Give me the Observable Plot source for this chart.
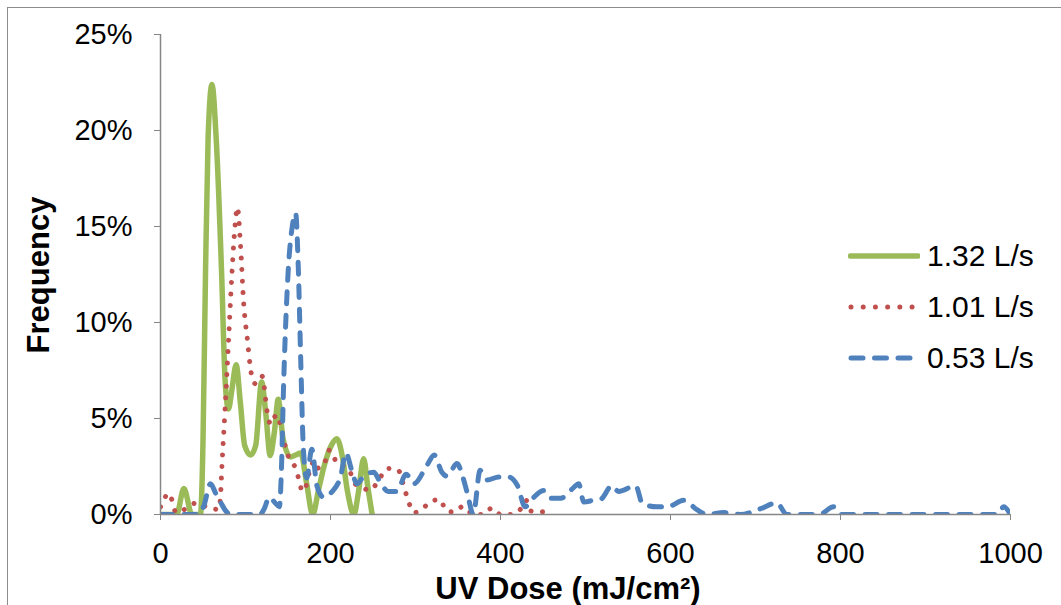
<!DOCTYPE html>
<html>
<head>
<meta charset="utf-8">
<script src="https://cdn.jsdelivr.net/npm/d3@7"></script>
<script src="https://cdn.jsdelivr.net/npm/@observablehq/plot@0.6"></script>
<style>
  html, body { margin: 0; padding: 0; background: #fff; }
  #wrap { position: relative; width: 1061px; height: 605px; overflow: hidden; font-family: "Liberation Sans", Arial, sans-serif; }
  #border { position: absolute; left: 7px; top: 7px; width: 1100px; height: 700px; border: 1.5px solid #8c8c8c; box-sizing: border-box; }
  .ttl { position: absolute; font-weight: bold; color: #000; white-space: nowrap; line-height: 1; }
  .leg { position: absolute; left: 848px; height: 30px; display: flex; align-items: center; font-size: 30px; color: #000; white-space: nowrap; }
  .leg svg { margin-right: 7px; }
</style>
</head>
<body>
<div id="wrap">
  <div id="border"></div>
  <div id="chart" style="position:absolute;left:0;top:0;"></div>
  <div class="ttl" id="ylab" style="font-size:31px;left:38px;top:275px;transform:translate(-50%,-50%) rotate(-90deg);">Frequency</div>
  <div class="ttl" id="xlab" style="font-size:31px;left:568px;top:588px;transform:translate(-50%,-50%);">UV Dose (mJ/cm²)</div>
  <div id="legend"></div>
</div>
<script>
// UV dose (mJ/cm²) and frequency (%)
const dose132 = [0, 10, 19, 27.5, 37, 47, 50, 53, 56, 60.5, 65.5, 71.8, 76, 80, 84, 89, 94, 99, 106, 112, 119, 124, 129, 134, 138.5, 144, 153, 159, 165, 172, 179, 186, 193, 201, 207.5, 214, 220, 227.5, 233, 239, 244, 249];
const freq132 = [0, 0, 0, 1.35, 0, 0, 3.8, 12.7, 19.6, 22.4, 19.6, 12.7, 7.0, 5.5, 6.5, 7.8, 5.8, 3.6, 3.1, 3.6, 6.9, 5.2, 3.07, 4.3, 6.0, 4.0, 3.0, 3.1, 3.2, 1.6, 0, 1.3, 2.6, 3.6, 3.95, 3.0, 1.2, 0, 1.2, 2.9, 1.4, 0];

const dose101 = [0, 3, 8, 14, 18, 26, 35, 44, 56, 68.5, 70.5, 72.5, 76, 80, 84, 88, 90.5, 94, 98, 102, 107, 112, 119.6, 125.5, 129.4, 136.5, 144, 147, 151, 159, 163, 167, 172, 175, 182, 186, 194, 198, 203, 207, 214, 222, 229, 237, 247, 254, 261, 267, 279, 288, 292, 298, 308, 318, 329, 336, 345, 356, 368, 380, 390, 400, 413, 423, 430, 436, 445, 454];
const freq101 = [0.4, 0.56, 1.1, 0.7, 0.1, 0.2, 0.5, 0.6, 0.35, 0.27, 0.9, 2.7, 5.5, 9.0, 12.5, 15.2, 16.0, 14.1, 10.9, 9.2, 7.3, 6.8, 7.2, 5.35, 4.7, 5.2, 4.1, 3.5, 2.95, 2.4, 1.8, 1.2, 1.6, 2.2, 2.8, 2.4, 2.8, 3.35, 3.2, 2.65, 2.55, 2.3, 1.6, 1.4, 1.26, 1.6, 2.1, 2.4, 2.35, 1.2, 0.65, 0.1, 0.27, 0.7, 0.77, 0.2, 0.13, 0.43, 0, 0, 0.34, 0, 0, 0.25, 0.74, 0.18, 0.13, 0.17];

const dose053 = [0, 45, 51, 58.8, 65, 70.6, 76.5, 82, 117, 122, 128, 135, 140, 142, 145, 150, 155, 159, 162, 165, 168, 172, 178, 184, 192, 202, 212, 218, 225, 231, 241, 251, 257, 268, 278, 289, 298, 314, 322, 331, 337, 349, 355, 361, 368, 376, 384, 398, 410, 420, 429, 437, 451, 459, 471, 486, 492, 498, 510, 518, 531, 539, 559, 567, 584, 596, 616, 631, 643, 663, 682, 706, 725, 737, 775, 792, 800, 985, 992, 1000];
const freq053 = [0, 0, 0.45, 1.6, 1.1, 0.65, 0.2, 0, 0, 0.3, 0.9, 0.6, 0.4, 2.0, 7.0, 12.5, 15.0, 15.7, 13.0, 8.0, 3.5, 1.9, 3.4, 1.5, 0.9, 1.2, 2.0, 3.2, 2.3, 1.6, 2.1, 2.2, 1.8, 1.2, 1.2, 2.1, 1.6, 2.6, 3.1, 2.2, 2.0, 2.65, 2.05, 1.1, 0, 2.3, 1.8, 1.95, 1.95, 1.5, 0.4, 0.8, 1.25, 0.85, 0.85, 1.4, 1.6, 0.65, 0.75, 0.8, 1.5, 1.2, 1.5, 0.56, 0.4, 0.4, 0.74, 0.25, 0, 0.1, 0, 0.3, 0.6, 0, 0, 0.4, 0, 0, 0.4, 0];

const seriesNames = ["1.32 L/s", "1.01 L/s", "0.53 L/s"];
const xTicks = [0, 200, 400, 600, 800, 1000];
const yTicks = [0, 5, 10, 15, 20, 25];

const COLORS = ["#9BBB59", "#C0504D", "#4F81BD"];
const toRows = (xs, ys) => xs.map((x, i) => ({x, y: ys[i]}));

const axisColor = "#868686";
const font = "'Liberation Sans', Arial, sans-serif";

const chart = Plot.plot({
  width: 1061,
  height: 605,
  marginLeft: 160,
  marginRight: 51,
  marginTop: 34,
  marginBottom: 91,
  style: {fontFamily: font, background: "transparent", overflow: "visible"},
  x: {domain: [0, 1000]},
  y: {domain: [0, 25]},
  marks: [
    Plot.line(toRows(dose132, freq132), {x: "x", y: "y", stroke: COLORS[0], strokeWidth: 5.5, curve: "monotone-x", clip: true}),
    Plot.line(toRows(dose101, freq101), {x: "x", y: "y", stroke: COLORS[1], strokeWidth: 5, strokeDasharray: "0.01 11.5", strokeLinecap: "round", curve: "monotone-x", clip: true}),
    Plot.line(toRows(dose053, freq053), {x: "x", y: "y", stroke: COLORS[2], strokeWidth: 5, strokeDasharray: "12 11.5", strokeLinecap: "round", curve: "monotone-x", clip: true}),
    Plot.ruleX([0], {stroke: axisColor, strokeWidth: 1.5}),
    Plot.ruleY([0], {stroke: axisColor, strokeWidth: 1.5}),
    Plot.axisY({ticks: yTicks, tickFormat: d => d + "%", tickSize: 6, tickPadding: 22, stroke: axisColor, fontSize: 29, fill: "#000", label: null}),
    Plot.axisX({ticks: xTicks, tickFormat: d => String(d), tickSize: 6, tickPadding: 22, stroke: axisColor, fontSize: 29, fill: "#000", label: null})
  ]
});
document.getElementById("chart").appendChild(chart);

// legend
const legend = document.getElementById("legend");
const legTops = [241, 292, 343];
seriesNames.forEach((name, i) => {
  const div = document.createElement("div");
  div.className = "leg";
  div.style.top = legTops[i] + "px";
  let sw = "";
  if (i === 0) sw = `<line x1="2.5" y1="15" x2="70" y2="15" stroke="${COLORS[0]}" stroke-width="5.5" stroke-linecap="round"/>`;
  if (i === 1) sw = `<line x1="3" y1="15" x2="68" y2="15" stroke="${COLORS[1]}" stroke-width="5" stroke-dasharray="0.01 12.2" stroke-linecap="round"/>`;
  if (i === 2) sw = `<line x1="3" y1="15" x2="70" y2="15" stroke="${COLORS[2]}" stroke-width="5" stroke-dasharray="12 11.5" stroke-linecap="round"/>`;
  div.innerHTML = `<svg width="72" height="30">${sw}</svg><span>${name}</span>`;
  legend.appendChild(div);
});
</script>
</body>
</html>
